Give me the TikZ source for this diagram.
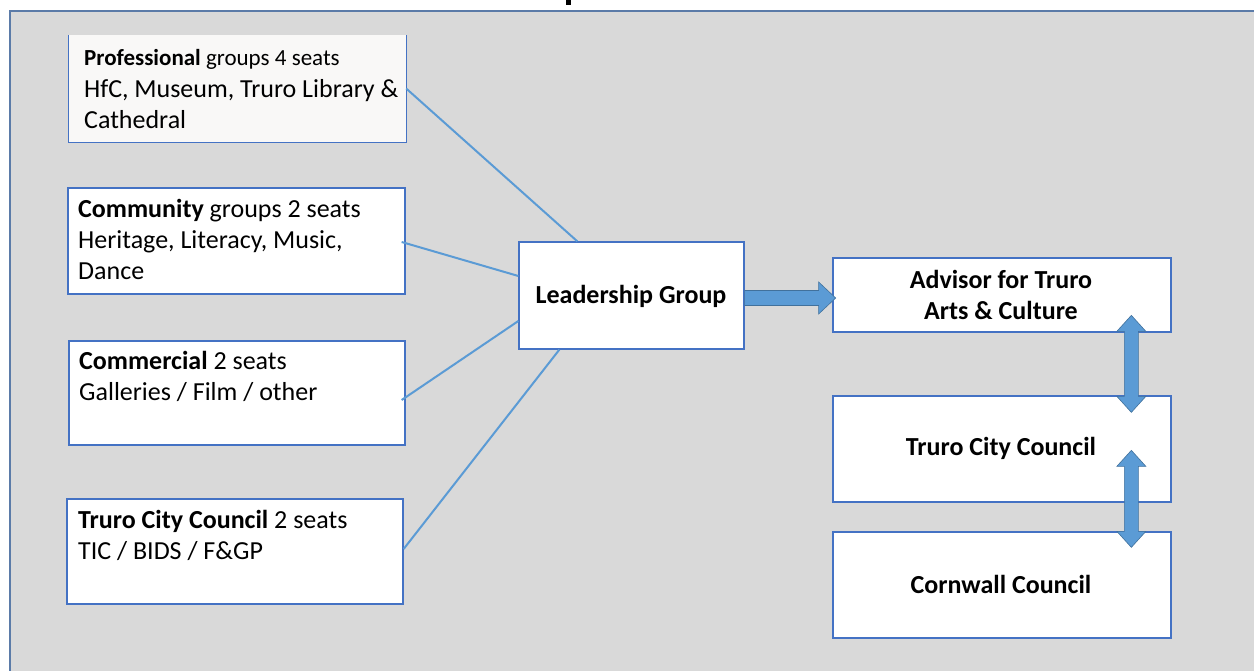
\documentclass[tikz,border=0pt]{standalone}
\usepackage{fontspec}
\setmainfont{Carlito}
\usetikzlibrary{calc}
\definecolor{bggray}{HTML}{D9D9D9}
\definecolor{boxblue}{HTML}{4472C4}
\definecolor{lineblue}{HTML}{5B9BD5}
\definecolor{arrowedge}{HTML}{41719C}
\definecolor{framecol}{HTML}{5B7BA8}
\definecolor{offwhite}{HTML}{F9F8F7}
\tikzset{
  box/.style={draw=boxblue, line width=1.3pt, fill=white, inner sep=0pt},
  boxtext/.style={anchor=base west, inner sep=0pt, align=left, font=\fontsize{26}{31}\selectfont},
  centertext/.style={inner sep=0pt, align=center, font=\fontsize{26}{31}\selectfont\bfseries},
  link/.style={draw=lineblue, line width=2pt},
  fat/.style={fill=lineblue, draw=arrowedge, line width=0.6pt, line join=miter}
}
\begin{document}
\begin{tikzpicture}[x=1pt,y=-1pt]
\useasboundingbox (0,0) rectangle (1254,670);
\fill[white] (0,0) rectangle (1254,670);
% frame
\fill[bggray] (10,11) rectangle (1260,680);
\draw[framecol, line width=1.6pt] (10,680) -- (10,11) -- (1260,11);
% title fragment
\fill[black] (566,0) rectangle (571,4.5);

% boxes
\node[fill=offwhite, inner sep=0pt, minimum width=337pt, minimum height=107pt] (prof) at (237.5,88.5) {};
\draw[draw=boxblue, line width=1.3pt] (prof.north west) -- (prof.south west) -- (prof.south east) -- (prof.north east);
\node[box, minimum width=337pt, minimum height=106pt] (comm) at (236.5,241) {};
\node[box, minimum width=336pt, minimum height=104pt] (cmrc) at (237,393) {};
\node[box, minimum width=336pt, minimum height=105pt] (tccl) at (235,551.5) {};
\node[box, minimum width=225pt, minimum height=107pt] (lead) at (631.5,295.5) {};
\node[box, minimum width=338pt, minimum height=74pt] (adv) at (1002,295) {};
\node[box, minimum width=338pt, minimum height=106pt] (tccr) at (1002,449) {};
\node[box, minimum width=338pt, minimum height=106pt] (corn) at (1002,585) {};

% texts (base anchor = baseline of last line)
\node[boxtext] (profT) at (84,128) {{\fontsize{23}{31}\selectfont\textbf{Professional} groups 4 seats}\\[1pt]HfC, Museum, Truro Library \&\\Cathedral};
\node[boxtext] (commT) at (78,279) {\textbf{Community} groups 2 seats\\Heritage, Literacy, Music,\\Dance};
\node[boxtext] (cmrcT) at (79,400) {\textbf{Commercial} 2 seats\\Galleries / Film / other};
\node[boxtext] (tcclT) at (78,559) {\textbf{Truro City Council} 2 seats\\TIC / BIDS / F\&GP};
\node[centertext] (leadT) at (631,296) {Leadership Group};
\node[centertext] (advT) at (1001,295) {Advisor for Truro\\Arts \& Culture};
\node[centertext] (tccrT) at (1001,448) {Truro City Council};
\node[centertext] (cornT) at (1001,584) {Cornwall Council};

% connectors
\draw[link] (prof.east) -- ($(lead.north west)+(59,0)$);
\draw[link] ($(comm.east)+(-4,1)$) -- ($(lead.west)+(0,-19.5)$);
\draw[link] ($(cmrc.east)+(-4,7)$) -- ($(lead.west)+(0,25.5)$);
\draw[link] ($(tccl.east)+(0,-2.5)$) -- ($(lead.south west)+(41,0)$);

% fat arrow right
\coordinate (fa) at ($(lead.east)+(0,2.5)$);
\draw[fat] ($(fa)+(0,-7.5)$) -- ($(fa)+(74,-7.5)$) -- ($(fa)+(74,-16)$) -- ($(fa)+(91,0)$) -- ($(fa)+(74,16)$) -- ($(fa)+(74,7.5)$) -- ($(fa)+(0,7.5)$) -- cycle;

% double arrows
\coordinate (d1t) at ($(adv.north west)+(299,58)$);
\coordinate (d1b) at ($(d1t)+(0,97)$);
\draw[fat] (d1t) -- ($(d1t)+(14.5,16)$) -- ($(d1t)+(7,16)$) -- ($(d1b)+(7,-16)$) -- ($(d1b)+(14.5,-16)$) -- (d1b) -- ($(d1b)+(-14.5,-16)$) -- ($(d1b)+(-7,-16)$) -- ($(d1t)+(-7,16)$) -- ($(d1t)+(-14.5,16)$) -- cycle;
\coordinate (d2t) at ($(tccr.north west)+(299,55)$);
\coordinate (d2b) at ($(d2t)+(0,97)$);
\draw[fat] (d2t) -- ($(d2t)+(14.5,16)$) -- ($(d2t)+(7,16)$) -- ($(d2b)+(7,-16)$) -- ($(d2b)+(14.5,-16)$) -- (d2b) -- ($(d2b)+(-14.5,-16)$) -- ($(d2b)+(-7,-16)$) -- ($(d2t)+(-7,16)$) -- ($(d2t)+(-14.5,16)$) -- cycle;
\end{tikzpicture}
\end{document}
